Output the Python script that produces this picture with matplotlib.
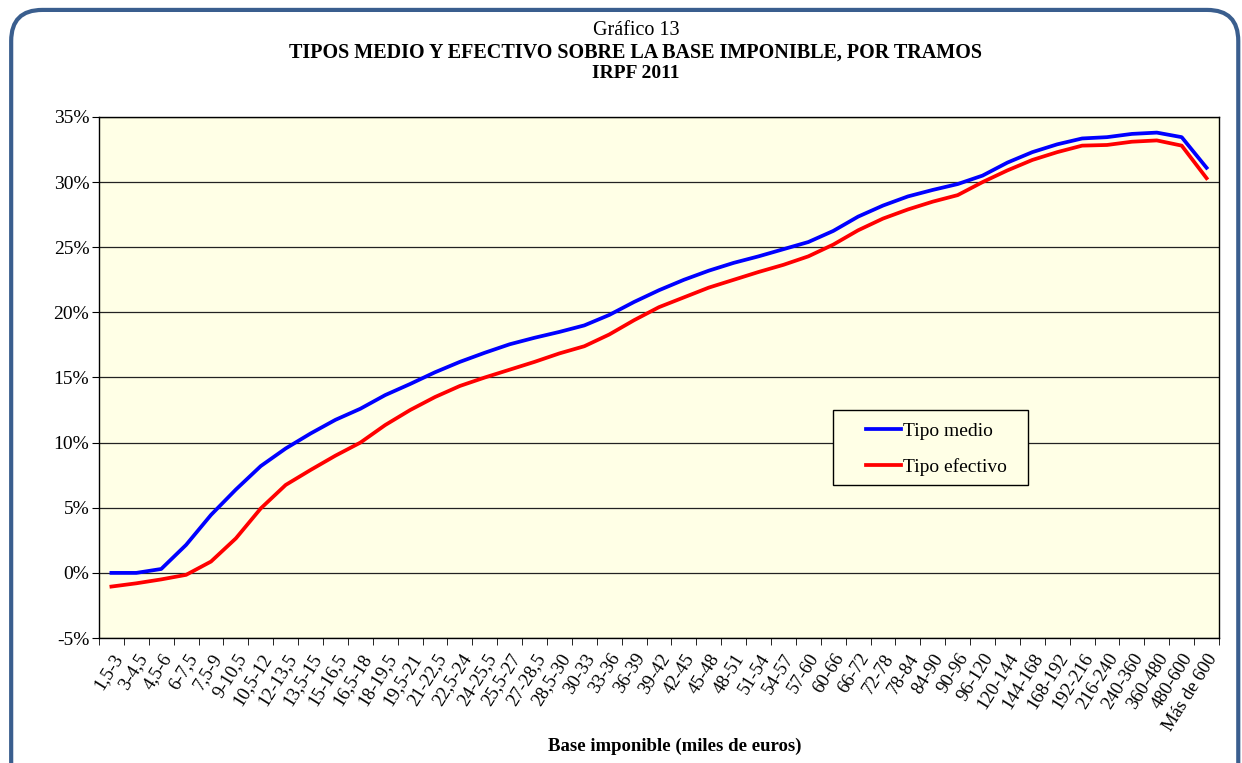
import numpy as np
import matplotlib.pyplot as plt
from matplotlib.patches import FancyBboxPatch, Rectangle
from matplotlib.ticker import FixedLocator

plt.rcParams['font.family'] = ['Liberation Serif', 'DejaVu Serif']

tramos = ['1,5-3', '3-4,5', '4,5-6', '6-7,5', '7,5-9', '9-10,5', '10,5-12', '12-13,5',
          '13,5-15', '15-16,5', '16,5-18', '18-19,5', '19,5-21', '21-22,5', '22,5-24',
          '24-25,5', '25,5-27', '27-28,5', '28,5-30', '30-33', '33-36', '36-39', '39-42',
          '42-45', '45-48', '48-51', '51-54', '54-57', '57-60', '60-66', '66-72', '72-78',
          '78-84', '84-90', '90-96', '96-120', '120-144', '144-168', '168-192', '192-216',
          '216-240', '240-360', '360-480', '480-600', 'Más de 600']

# tipos en %
tipo_medio = [0.0, 0.0, 0.3, 2.15, 4.45, 6.4, 8.2, 9.55, 10.7, 11.75, 12.6, 13.65, 14.5,
              15.4, 16.2, 16.9, 17.55, 18.05, 18.5, 19.0, 19.8, 20.8, 21.7, 22.5, 23.2,
              23.8, 24.3, 24.85, 25.4, 26.25, 27.35, 28.2, 28.9, 29.4, 29.85, 30.5, 31.5,
              32.3, 32.9, 33.35, 33.45, 33.7, 33.8, 33.45, 31.1]
tipo_efectivo = [-1.05, -0.8, -0.5, -0.15, 0.87, 2.65, 4.95, 6.75, 7.9, 9.0, 10.0, 11.35,
                 12.5, 13.5, 14.35, 15.0, 15.6, 16.2, 16.85, 17.4, 18.3, 19.4, 20.4, 21.15,
                 21.9, 22.5, 23.1, 23.65, 24.3, 25.2, 26.3, 27.2, 27.9, 28.5, 29.0, 30.0,
                 30.9, 31.7, 32.3, 32.8, 32.85, 33.1, 33.2, 32.8, 30.3]

fig = plt.figure(figsize=(12.42, 7.63), dpi=100)

# marco redondeado (abierto por abajo)
marco = FancyBboxPatch((0.009, -0.05), 0.988, 1.037, transform=fig.transFigure,
                       boxstyle='round,pad=0,rounding_size=0.025', fill=False,
                       edgecolor='#3A5E8E', linewidth=3, mutation_aspect=1242 / 763,
                       clip_on=False)
fig.patches.append(marco)

ax = fig.add_axes([0.0797, 0.1638, 0.9018, 0.6829])
ax.set_facecolor('#FFFFE6')

x = np.arange(len(tramos))
ax.plot(x, tipo_medio, color='#0000FF', lw=2.7, label='Tipo medio', solid_joinstyle='round')
ax.plot(x, tipo_efectivo, color='#FF0000', lw=2.7, label='Tipo efectivo', solid_joinstyle='round')

ax.set_xlim(-0.5, len(tramos) - 0.5)
ax.set_ylim(-5, 35)
ax.set_yticks(np.arange(-5, 36, 5))
ax.set_yticklabels([f'{v}%' for v in range(-5, 36, 5)], fontsize=14)
ax.yaxis.grid(True, color='#222222', lw=0.9)
ax.set_axisbelow(True)

ax.set_xticks(x)
ax.set_xticklabels(tramos, rotation=58, ha='right', rotation_mode='anchor', fontsize=13.5)
ax.tick_params(axis='x', which='major', length=0, pad=9)
ax.xaxis.set_minor_locator(FixedLocator(np.arange(-0.5, len(tramos), 1)))
ax.tick_params(axis='x', which='minor', length=5, direction='out', color='black')
ax.tick_params(axis='y', length=5, direction='out', pad=2)
for s in ax.spines.values():
    s.set_color('black')
    s.set_linewidth(1)

# recuadro de la leyenda
ax.add_patch(Rectangle((0.6554, 0.2937), 0.1741, 0.1439, transform=ax.transAxes,
                       facecolor='#FFFFE6', edgecolor='black', lw=1, zorder=4))
leg = ax.legend(loc='upper left', bbox_to_anchor=(0.6848, 0.414), fontsize=14,
                frameon=False, handlelength=1.8, handletextpad=0.1, labelspacing=0.95,
                borderpad=0, borderaxespad=0)
leg.set_zorder(5)

fig.text(0.512, 0.96, 'Gráfico 13', ha='center', va='center', fontsize=14.5)
fig.text(0.512, 0.931, 'TIPOS MEDIO Y EFECTIVO SOBRE LA BASE IMPONIBLE, POR TRAMOS',
         ha='center', va='center', fontsize=14.5, fontweight='bold')
fig.text(0.512, 0.904, 'IRPF 2011', ha='center', va='center', fontsize=14, fontweight='bold')
fig.text(0.543, 0.022, 'Base imponible (miles de euros)', ha='center', va='center',
         fontsize=13.5, fontweight='bold')

plt.savefig('out.png', dpi=100)
